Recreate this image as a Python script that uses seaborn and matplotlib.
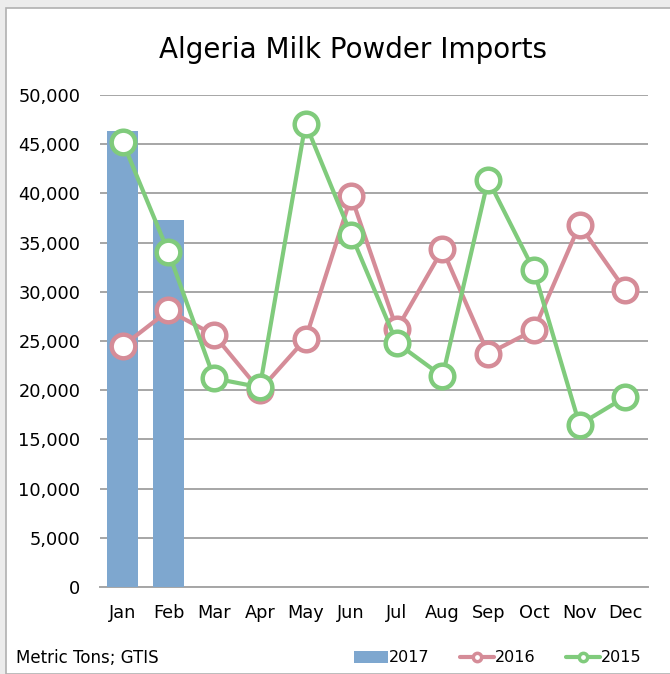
# plot.py
# Algeria milk powder imports, monthly, 2015-2017

import numpy as np
import pandas as pd
import matplotlib
matplotlib.use('Agg')
import matplotlib.pyplot as plt
from matplotlib.patches import Patch, Rectangle
from matplotlib.lines import Line2D
from matplotlib.ticker import FuncFormatter
import seaborn as sns

# ── Data ──────────────────────────────────────────────
months = ['Jan', 'Feb', 'Mar', 'Apr', 'May', 'Jun',
          'Jul', 'Aug', 'Sep', 'Oct', 'Nov', 'Dec']
months_2017 = ['Jan', 'Feb']
tons_2017 = [46300, 37300]
tons_2016 = [24500, 28100, 25600, 20000, 25200, 39700,
             26200, 34300, 23700, 26100, 36800, 30200]
tons_2015 = [45200, 34000, 21200, 20300, 47100, 35800,
             24800, 21400, 41400, 32200, 16500, 19300]
y_ticks = np.arange(0, 50001, 5000)

C_2017 = '#7ea7cf'
C_2016 = '#d58c98'
C_2015 = '#80cb7c'
GRID   = '#a6a6a6'

df17 = pd.DataFrame({'month': months_2017, 'tons': tons_2017})
df16 = pd.DataFrame({'month': months, 'tons': tons_2016})
df15 = pd.DataFrame({'month': months, 'tons': tons_2015})

# ── Figure ────────────────────────────────────────────
sns.set_theme(style='white')
plt.rcParams['font.family'] = ['DejaVu Sans']
plt.rcParams['text.color'] = 'black'

fig = plt.figure(figsize=(6.7, 6.74), dpi=100)
fig.patch.set_facecolor('#ececec')
fig.patches.append(Rectangle((6/670, 0), 1, 1 - 8/674, transform=fig.transFigure,
                             facecolor='white', edgecolor='#b0b0b0', lw=1.2, zorder=-5))

ax = fig.add_axes([100/670, 1 - 587/674, 548/670, 492/674])
ax.set_facecolor('none')

sns.barplot(data=df17, x='month', y='tons', order=months, color=C_2017,
            saturation=1, width=0.68, ax=ax)
for bar in ax.patches:
    bar.set_zorder(2)
    bar.set_edgecolor('none')

line_kw = dict(markers='o', linestyles='-', errorbar=None, markersize=17,
               markerfacecolor='white', markeredgewidth=3.2, linewidth=3.0)
sns.pointplot(data=df16, x='month', y='tons', order=months, color=C_2016, ax=ax, **line_kw)
sns.pointplot(data=df15, x='month', y='tons', order=months, color=C_2015, ax=ax, **line_kw)
for ln in ax.lines:
    ln.set_zorder(3)

ax.set_xlim(-0.5, 11.5)
ax.set_ylim(0, 50000)
ax.set_yticks(y_ticks)
ax.yaxis.set_major_formatter(FuncFormatter(lambda v, p: f'{int(v):,}'))
ax.grid(axis='y', color=GRID, lw=1.4)
ax.set_axisbelow(True)
for s in ['left', 'right', 'top']:
    ax.spines[s].set_visible(False)
ax.spines['bottom'].set_color(GRID)
ax.spines['bottom'].set_linewidth(1.4)
ax.spines['bottom'].set_zorder(1)
ax.tick_params(axis='both', length=0, labelsize=12.8, colors='black')
ax.tick_params(axis='y', pad=14)
ax.tick_params(axis='x', pad=12)
ax.set_xlabel('')
ax.set_ylabel('')

fig.text(353/670, 1 - 50/674, 'Algeria Milk Powder Imports', ha='center', va='center',
         fontsize=20, color='black')
fig.text(16/670, 1 - 658/674, 'Metric Tons; GTIS', ha='left', va='center',
         fontsize=12, color='black')

handles = [
    Patch(facecolor=C_2017, edgecolor='none', label='2017'),
    Line2D([], [], color=C_2016, lw=3, marker='o', markersize=6,
           markerfacecolor='white', markeredgewidth=2.5, label='2016'),
    Line2D([], [], color=C_2015, lw=3, marker='o', markersize=6,
           markerfacecolor='white', markeredgewidth=2.5, label='2015'),
]
fig.legend(handles=handles, loc='center', bbox_to_anchor=(498/670, 1 - 658/674),
           ncol=3, frameon=False, fontsize=11.5, handlelength=2.1, handletextpad=0.1,
           columnspacing=1.9, handleheight=0.8, labelcolor='black')

fig.savefig('out.png', dpi=100, facecolor=fig.get_facecolor())
